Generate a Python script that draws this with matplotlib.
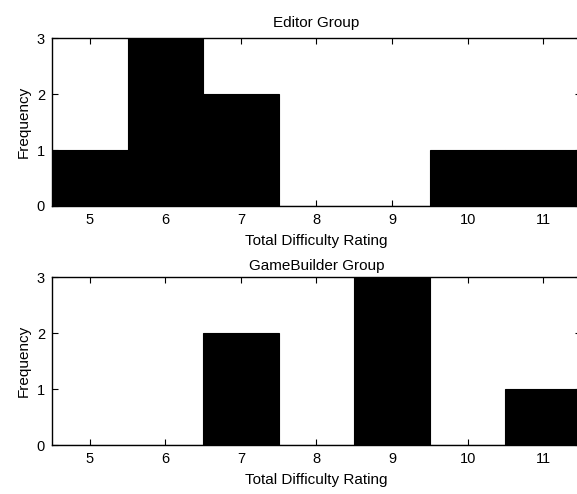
import numpy as np
import matplotlib.pyplot as plt

plt.rcParams['font.family'] = ['Liberation Sans', 'DejaVu Sans']

# 数据
ratings = [5, 6, 7, 8, 9, 10, 11]
editor_counts = [1, 3, 2, 0, 0, 1, 1]
gamebuilder_counts = [0, 0, 2, 0, 3, 0, 1]

fig = plt.figure(figsize=(5.77, 4.94), dpi=100)
ax1 = fig.add_axes([0.090, 0.583, 0.917, 0.340])
ax2 = fig.add_axes([0.090, 0.099, 0.917, 0.340])


def draw_hist(ax, counts, title, title_pad):
    ax.bar(ratings, counts, width=1.0, color='black', edgecolor='black', linewidth=0.8)
    ax.set_xlim(4.5, 11.5)
    ax.set_ylim(0, 3)
    ax.set_xticks(ratings)
    ax.set_yticks([0, 1, 2, 3])
    ax.tick_params(direction='in', top=True, right=True, length=4,
                   labelsize=10.5, width=0.8, pad=5)
    for s in ax.spines.values():
        s.set_linewidth(1.0)
    ax.set_title(title, fontsize=11, pad=title_pad)
    ax.set_xlabel('Total Difficulty Rating', fontsize=11, labelpad=5)
    ax.set_ylabel('Frequency', fontsize=11, labelpad=4)


draw_hist(ax1, editor_counts, 'Editor Group', 8)
draw_hist(ax2, gamebuilder_counts, 'GameBuilder Group', 5)

fig.savefig('out.png', dpi=100)
